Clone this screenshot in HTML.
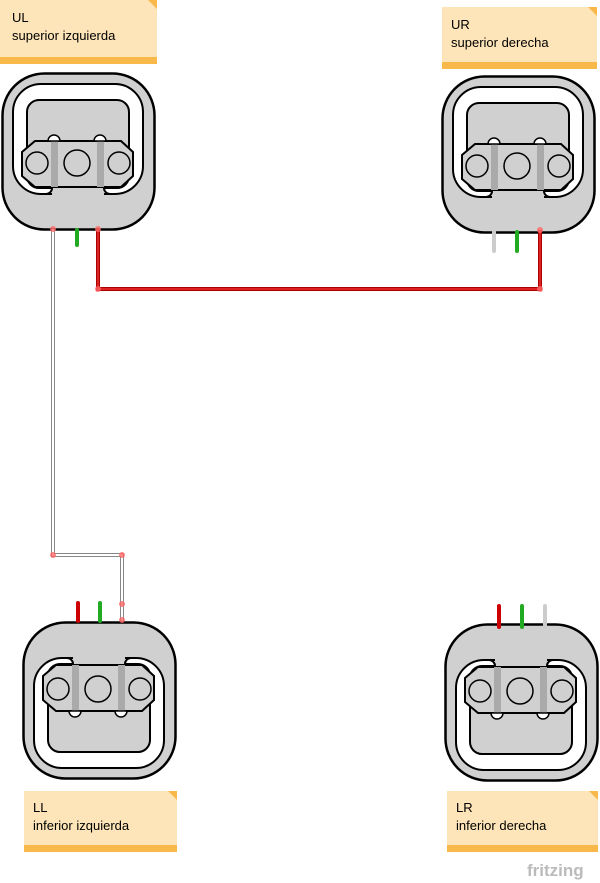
<!DOCTYPE html>
<html><head><meta charset="utf-8"><style>
html,body{margin:0;padding:0;background:#fff;width:600px;height:883px;overflow:hidden}
svg{display:block}
text{font-family:"Liberation Sans","DejaVu Sans",sans-serif}
</style></head><body>
<svg width="600" height="883" viewBox="0 0 600 883" xmlns="http://www.w3.org/2000/svg">
<defs>
<g id="cell">
  <rect x="0.5" y="0.5" width="152" height="156" rx="42" fill="#d0d0d0" stroke="#000" stroke-width="2.5"/>
  <rect x="11" y="11" width="130" height="110" rx="28" fill="#fff" stroke="#000" stroke-width="2"/>
  <rect x="25" y="27" width="102" height="88" rx="12" fill="#d0d0d0" stroke="#000" stroke-width="2"/>
  <rect x="50" y="105" width="52" height="20" fill="#d0d0d0"/>
  <path d="M50 108 V115 a6 6 0 0 1 -6 6 M102 108 V115 a6 6 0 0 0 6 6" stroke="#000" stroke-width="2" fill="none"/>
  <polygon points="33,68 119,68 131,79 131,103 119,114 33,114 20,103 20,79" fill="#d0d0d0" stroke="#000" stroke-width="2"/>
  <rect x="49" y="68" width="7" height="46" fill="#aaa"/>
  <rect x="95" y="68" width="7" height="46" fill="#aaa"/>
  <path d="M46 68 a6 6 0 0 1 12 0 Z M92 68 a6 6 0 0 1 12 0 Z" fill="#fff" stroke="#000" stroke-width="1.5"/>
  <circle cx="35" cy="90" r="11" fill="none" stroke="#000" stroke-width="1.5"/>
  <circle cx="75" cy="90" r="13" fill="none" stroke="#000" stroke-width="1.5"/>
  <circle cx="117" cy="90" r="11" fill="none" stroke="#000" stroke-width="1.5"/>
</g>
</defs>
<g>
<rect x="0" y="0" width="157" height="64" fill="#fde5b9"/><rect x="0" y="57" width="157" height="7" fill="#f9b84a"/><polygon points="148,0 157,0 157,9" fill="#f9b84a"/>
<text x="12" y="22" font-size="13">UL</text><text x="12" y="40" font-size="13">superior izquierda</text>
<rect x="442" y="7" width="155" height="62" fill="#fde5b9"/><rect x="442" y="62" width="155" height="7" fill="#f9b84a"/><polygon points="588,7 597,7 597,16" fill="#f9b84a"/>
<text x="451" y="29" font-size="13">UR</text><text x="451" y="47" font-size="13">superior derecha</text>
<rect x="24" y="791" width="153" height="61" fill="#fde5b9"/><rect x="24" y="845" width="153" height="7" fill="#f9b84a"/><polygon points="168,791 177,791 177,800" fill="#f9b84a"/>
<text x="33" y="812" font-size="13">LL</text><text x="33" y="830" font-size="13">inferior izquierda</text>
<rect x="447" y="791" width="151" height="61" fill="#fde5b9"/><rect x="447" y="845" width="151" height="7" fill="#f9b84a"/><polygon points="589,791 598,791 598,800" fill="#f9b84a"/>
<text x="456" y="812" font-size="13">LR</text><text x="456" y="830" font-size="13">inferior derecha</text>
</g>
<use href="#cell" transform="translate(2,73)"/>
<use href="#cell" transform="translate(442,76)"/>
<use href="#cell" transform="translate(23,779) scale(1,-1)"/>
<use href="#cell" transform="translate(445,781) scale(1,-1)"/>
<path d="M53 229 V555 H122 V621" fill="none" stroke="#888" stroke-width="4"/>
<path d="M53 229 V555 H122 V621" fill="none" stroke="#fff" stroke-width="2"/>
<path d="M98 229 V289 H540 V230" fill="none" stroke="#a00" stroke-width="4"/>
<path d="M98 229 V289 H540 V230" fill="none" stroke="#d22" stroke-width="2"/>
<g stroke-width="4" stroke-linecap="round">
<line x1="77" y1="230" x2="77" y2="245" stroke="#2a2"/>
<line x1="494" y1="232" x2="494" y2="251" stroke="#ccc"/><line x1="517" y1="232" x2="517" y2="251" stroke="#2a2"/>
<line x1="78" y1="603" x2="78" y2="621" stroke="#c00"/><line x1="100" y1="603" x2="100" y2="621" stroke="#2a2"/>
<line x1="499" y1="606" x2="499" y2="627" stroke="#c00"/><line x1="522" y1="606" x2="522" y2="627" stroke="#2a2"/><line x1="545" y1="606" x2="545" y2="627" stroke="#ccc"/>
</g>
<g fill="#f66" opacity="0.8">
<circle cx="53" cy="229" r="3"/><circle cx="98" cy="229" r="3"/><circle cx="98" cy="289" r="3"/><circle cx="540" cy="289" r="3"/><circle cx="540" cy="230" r="3"/>
<circle cx="53" cy="555" r="3"/><circle cx="122" cy="555" r="3"/><circle cx="122" cy="604" r="3"/><circle cx="122" cy="620" r="3"/>
</g>
<text x="527" y="876" font-size="17" fill="#bbb" font-weight="bold">fritzing</text>
</svg>
</body></html>
